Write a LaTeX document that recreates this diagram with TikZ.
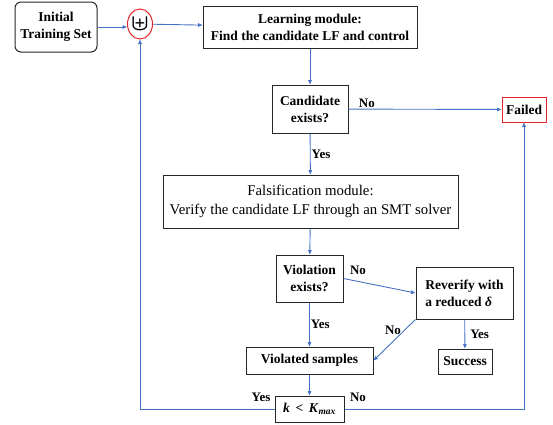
\documentclass[tikz,border=0pt]{standalone}
\usepackage{fontspec}
\setmainfont{Liberation Serif}
\usepackage{amsmath,amssymb}
\usepackage{bm}
\usepackage{tikz}
\usetikzlibrary{calc, arrows.meta, shapes.geometric}
\usetikzlibrary{positioning}
\definecolor{flowblue}{HTML}{4472C4}
\definecolor{boxred}{HTML}{E8262A}

\begin{document}
\begin{tikzpicture}[x=1pt, y=-1pt,
    font=\fontsize{13.5}{17}\selectfont\bfseries,
    box/.style={draw=black!85, line width=1pt, align=center, inner sep=1pt},
    flow/.style={draw=flowblue, line width=0.9pt, -{Triangle[length=4.5pt,width=3.5pt]}},
    ans/.style={font=\fontsize{13}{15}\selectfont\bfseries, inner sep=1pt}]
    % \clip (0,0) rectangle (553,424);
    \useasboundingbox (0,0) rectangle (553,424);
    \node[box, rounded corners=6pt, minimum width=82pt, minimum height=50pt] (Init) at (56,27) {Initial\\Training Set};
    \node[draw=boxred, line width=1pt, ellipse, minimum width=23pt, minimum height=30pt, inner sep=0pt] (Union) at (140,24) {\scalebox{1.6}{$\bm{\uplus}$}};
    \node[box, minimum width=214pt, minimum height=42pt] (Learn) at (310,27) {Learning module:\\Find the candidate LF and control};
    \node[box, minimum width=76pt, minimum height=48pt] (Cand) at (310,109) {Candidate\\exists?};
    \node[box, draw=boxred, minimum width=44pt, minimum height=25pt] (Failed) at (524,109.5) {Failed};
    \node[box, font=\fontsize{14.8}{19}\selectfont, minimum width=295pt, minimum height=53pt] (Fals) at (310.5,201.5) {Falsification module:\\Verify the candidate LF through an SMT solver};
    \node[box, minimum width=67pt, minimum height=47pt] (Viol) at (309.5,278.5) {Violation\\exists?};
    \node[box, align=left, minimum width=97pt, minimum height=52pt] (Rever) at (464.5,293) {Reverify with\\a reduced \textit{δ}};
    \node[box, minimum width=127pt, minimum height=27pt] (Vsamp) at (309.5,360.5) {Violated samples};
    \node[box, minimum width=69pt, minimum height=26pt] (Kmax) at (309.5,409) {\textit{k} \,<\, \textit{K}\textsubscript{\textit{max}}};
    \node[box, minimum width=54pt, minimum height=25pt] (Succ) at (465,361.5) {Success};

    \draw[flow] (Init) -- (Init -| Union.west);
    \draw[flow] (Union) -- (Learn);
    \draw[flow] (Learn) -- (Cand);
    \draw[flow] (Cand) -- node[ans, pos=0.12, above] {No} (Failed);
    \draw[flow] (Cand) -- node[ans, pos=0.5, right] {Yes} (Fals);
    \draw[flow] (Fals) -- (Viol);
    \draw[flow] (Viol.east) -- (Rever.west);
    \node[ans] at (358,270) {No};
    \draw[flow] (Viol) -- node[ans, right] {Yes} (Vsamp);
    \draw[flow] (Rever.south west) -- (Vsamp.east);
    \node[ans] at (393,330) {No};
    \draw[flow] (Rever) -- node[ans, right, xshift=4pt] {Yes} (Succ);
    \draw[flow] (Vsamp) -- (Kmax);
    \draw[flow] (Kmax.west) -- (Union |- Kmax.west) -- (Union.south);
    \node[ans] at (261,397) {Yes};
    \draw[flow] (Kmax.east) -- (Failed |- Kmax.east) -- (Failed.south);
    \node[ans] at (358,397) {No};
\end{tikzpicture}
\end{document}
